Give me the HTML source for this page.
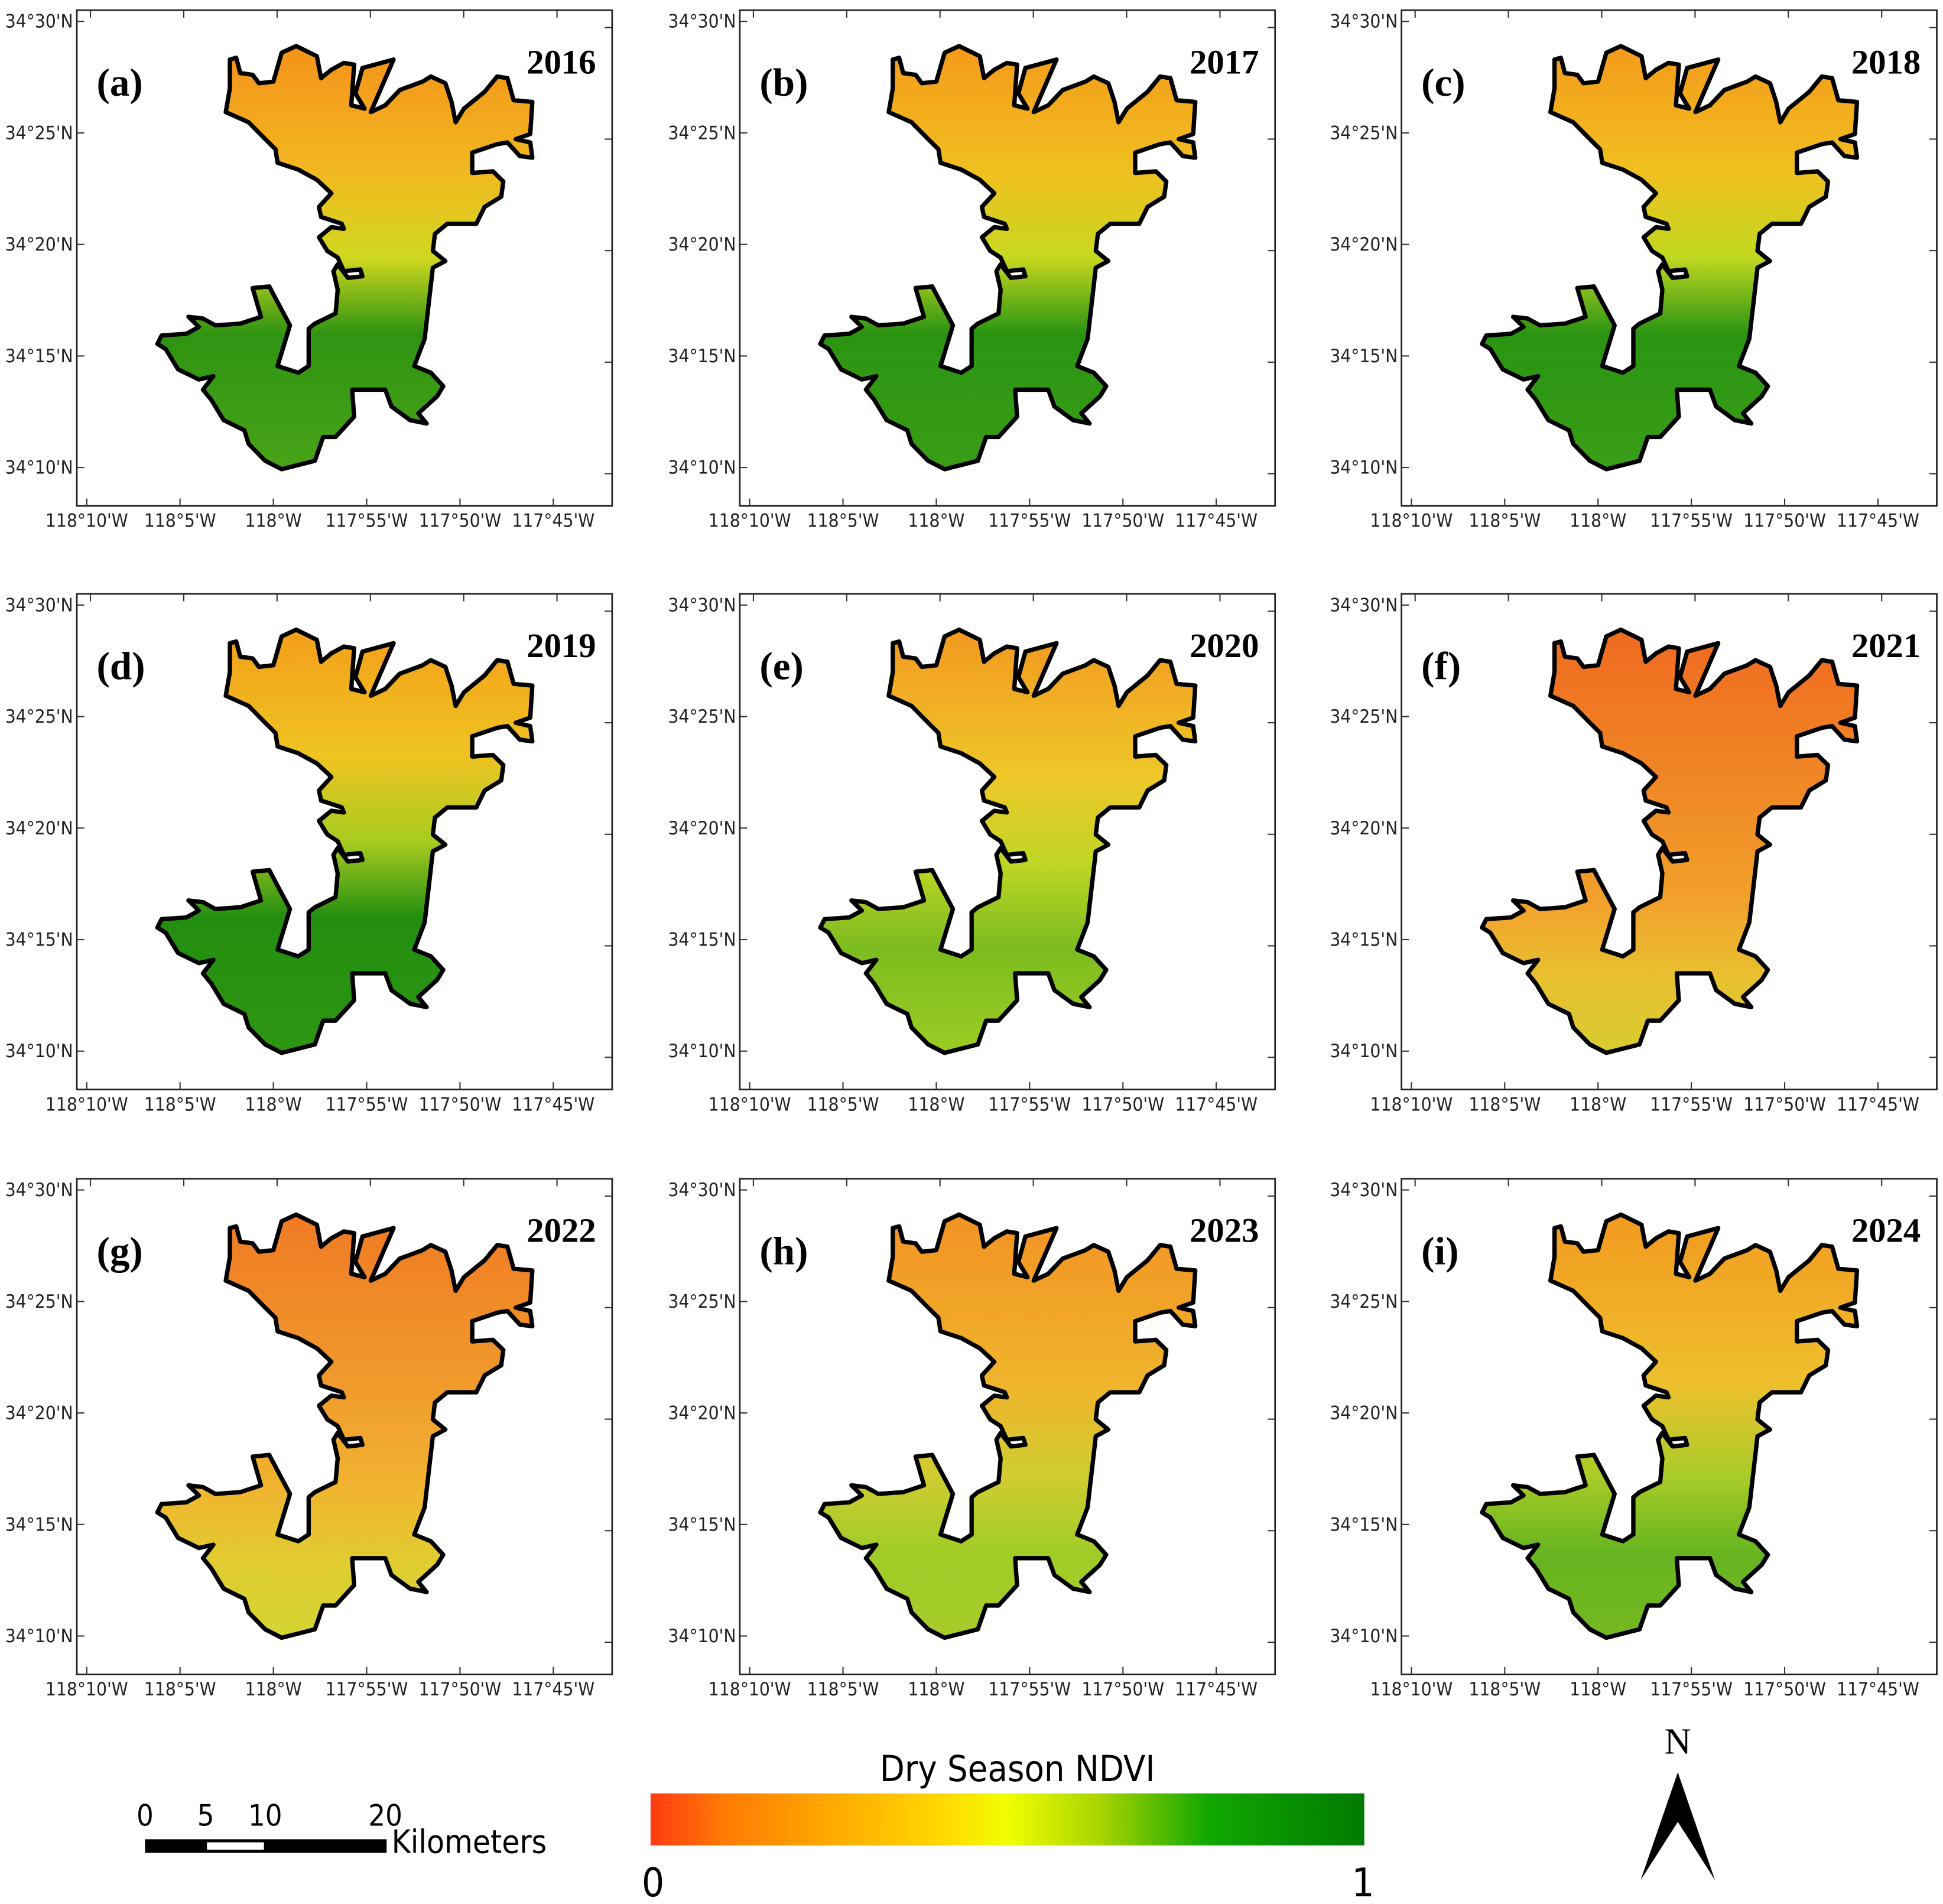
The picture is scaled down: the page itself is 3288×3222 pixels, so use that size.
<!DOCTYPE html>
<html><head><meta charset="utf-8">
<style>
html,body{margin:0;padding:0;background:#fff;}
svg{display:block;}
text{font-family:"DejaVu Sans Condensed","Liberation Sans Narrow","Liberation Sans",sans-serif;}
.serif{font-family:"Liberation Serif",serif;font-weight:bold;}
.nser{font-family:"Liberation Serif",serif;}
</style></head>
<body>
<svg id="fig" width="3288" height="3222" viewBox="0 0 1568 1536" xmlns="http://www.w3.org/2000/svg">
<defs id="defs">
<linearGradient id="cbar" x1="0" x2="1" y1="0" y2="0">
<stop offset="0" stop-color="#ff3a12"/><stop offset="0.1" stop-color="#ff7a05"/>
<stop offset="0.25" stop-color="#ffa800"/><stop offset="0.42" stop-color="#ffdc00"/>
<stop offset="0.5" stop-color="#f0ff00"/><stop offset="0.63" stop-color="#a8d400"/>
<stop offset="0.78" stop-color="#12a800"/><stop offset="1" stop-color="#007a00"/>
</linearGradient>
</defs>
<g id="panels"></g>
<g>
<text x="117" y="1473" font-size="24" text-anchor="middle">0</text>
<text x="166" y="1473" font-size="24" text-anchor="middle">5</text>
<text x="214" y="1473" font-size="24" text-anchor="middle">10</text>
<text x="311" y="1473" font-size="24" text-anchor="middle">20</text>
<rect x="117" y="1484" width="195" height="11" fill="#000"/>
<rect x="167" y="1486.5" width="46" height="6" fill="#fff"/>
<text x="316" y="1495" font-size="26">Kilometers</text>
</g>
<g>
<text x="821" y="1437" font-size="29" text-anchor="middle">Dry Season NDVI</text>
<rect x="525" y="1447" width="576" height="42" fill="url(#cbar)"/>
<text x="527" y="1530" font-size="32" text-anchor="middle">0</text>
<text x="1100" y="1530" font-size="32" text-anchor="middle">1</text>
</g>
<g>
<text x="1354" y="1415" font-size="30" text-anchor="middle" class="nser">N</text>
<polygon points="1354,1430 1384,1517 1354,1470 1324,1517" fill="#000"/>
</g>
</svg>
<script>
const years=['2016','2017','2018','2019','2020','2021','2022','2023','2024'];
const letters=['(a)','(b)','(c)','(d)','(e)','(f)','(g)','(h)','(i)'];
const latLabels=["34°30'N","34°25'N","34°20'N","34°15'N","34°10'N"];
const lonLabels=["118°10'W","118°5'W","118°W","117°55'W","117°50'W","117°45'W"];
const gradStops=[
 [[0,'#f4921a'],[0.3,'#f2b820'],[0.5,'#d0d820'],[0.68,'#2e9412'],[1,'#4aa418']],
 [[0,'#f49a1a'],[0.3,'#f0c020'],[0.5,'#c8d820'],[0.68,'#2a9412'],[1,'#3a9e16']],
 [[0,'#f49a1a'],[0.3,'#f0c020'],[0.5,'#c0d820'],[0.68,'#2a9412'],[1,'#3a9e16']],
 [[0,'#f49e1a'],[0.3,'#eec422'],[0.5,'#a8cc20'],[0.68,'#238e10'],[1,'#2e9612']],
 [[0,'#f29820'],[0.35,'#eec828'],[0.55,'#c0d624'],[0.75,'#7cbc20'],[1,'#9ccc22']],
 [[0,'#f06a20'],[0.4,'#f08a26'],[0.65,'#f2a22c'],[0.82,'#e8c030'],[1,'#d8cc30']],
 [[0,'#f07a24'],[0.4,'#f09a2c'],[0.65,'#f0b430'],[0.82,'#e0cc30'],[1,'#d4d432']],
 [[0,'#f29224'],[0.4,'#f0b42c'],[0.62,'#d0cc30'],[0.8,'#a0cc28'],[1,'#a8cc2a']],
 [[0,'#f29a20'],[0.4,'#eec02c'],[0.62,'#a8cc28'],[0.8,'#66b420'],[1,'#74b822']]
];
const outline=[[555,175],[570,170],[580,215],[610,220],[625,245],[660,240],[680,155],[715,135],[740,150],[765,165],[775,230],[800,205],[830,185],[855,190],[848,310],[880,320],[858,275],[875,200],[950,175],[895,330],[930,310],[965,265],[1020,240],[1040,225],[1075,245],[1090,300],[1100,360],[1120,320],[1170,270],[1200,225],[1225,230],[1240,295],[1285,300],[1280,395],[1245,410],[1280,420],[1285,465],[1255,460],[1225,420],[1200,425],[1140,450],[1140,510],[1190,505],[1215,535],[1210,580],[1170,610],[1150,660],[1080,660],[1050,690],[1045,740],[1075,770],[1045,790],[1025,1000],[1000,1080],[1040,1100],[1070,1140],[1055,1170],[1010,1220],[1030,1250],[990,1240],[945,1200],[930,1150],[850,1150],[855,1230],[810,1290],[780,1290],[760,1360],[680,1385],[640,1360],[600,1310],[590,1270],[540,1240],[510,1180],[490,1150],[515,1110],[480,1120],[430,1090],[400,1030],[380,1015],[390,990],[450,985],[480,965],[455,935],[490,940],[520,960],[580,955],[630,935],[610,850],[650,845],[665,880],[700,960],[690,1000],[670,1080],[720,1100],[745,1080],[745,970],[760,955],[810,925],[815,855],[805,800],[815,780],[840,820],[875,815],[870,795],[830,800],[815,760],[790,740],[770,700],[800,670],[830,675],[825,660],[775,640],[770,610],[800,570],[765,530],[720,500],[670,480],[665,440],[640,410],[600,360],[545,330],[555,260]];
const NS='http://www.w3.org/2000/svg';
const root=document.getElementById('panels');
const defs=document.getElementById('defs');
const colOff=[0,535,1069], rowOff=[0,471,943];
const fx=62,fy=8,fw=432,fh=400;
function latY(i){return 17+i*90;}
function lonX(i){return 70+i*75.3;}
function mk(tag,attrs,parent){const e=document.createElementNS(NS,tag);for(const k in attrs)e.setAttribute(k,attrs[k]);parent.appendChild(e);return e;}
years.forEach((yr,k)=>{
  const ox=colOff[k%3], oy=rowOff[Math.floor(k/3)];
  const g=mk('g',{transform:`translate(${ox},${oy})`},root);
  
  
  const lg=mk('linearGradient',{id:'g'+k,x1:0,x2:0,y1:0,y2:1},defs);
  gradStops[k].forEach(s=>mk('stop',{offset:s[0],'stop-color':s[1]},lg));
  const fr=mk('rect',{x:fx,y:fy,width:fw,height:fh,fill:'#fff',stroke:'#222','stroke-width':1.3},g);
  
  
  latLabels.forEach((t,i)=>{
    const y=latY(i);
    mk('line',{x1:fx,x2:fx+6,y1:y,y2:y,stroke:'#333','stroke-width':1},g);
    mk('line',{x1:fx+fw-6,x2:fx+fw,y1:y+5,y2:y+5,stroke:'#333','stroke-width':1},g);
    const tx=mk('text',{x:59,y:y+5,'font-size':15,'text-anchor':'end',fill:'#222'},g);
    tx.textContent=t;
    
    
  });
  lonLabels.forEach((t,i)=>{
    const x=lonX(i);
    mk('line',{x1:x,x2:x,y1:fy+fh-6,y2:fy+fh,stroke:'#333','stroke-width':1},g);
    mk('line',{x1:x+3,x2:x+3,y1:fy,y2:fy+6,stroke:'#333','stroke-width':1},g);
    const tx=mk('text',{x:x,y:425,'font-size':15,'text-anchor':'middle',fill:'#222'},g);
    tx.textContent=t;
    
    
  });
  const pts=outline.map(p=>(p[0]*0.3343).toFixed(1)+','+(p[1]*0.2732).toFixed(1)).join(' ');
  const poly=mk('polygon',{points:pts,fill:`url(#g${k})`,stroke:'#000','stroke-width':3.5,'stroke-linejoin':'round'},g);
  
  
  const lt=mk('text',{x:78,y:77,'font-size':32,class:'serif'},g);
  lt.textContent=letters[k];
  
  
  const yt=mk('text',{x:481,y:59,'font-size':28,'text-anchor':'end',class:'serif'},g);
  yt.textContent=yr;
  
  
});
</script>
</body></html>
